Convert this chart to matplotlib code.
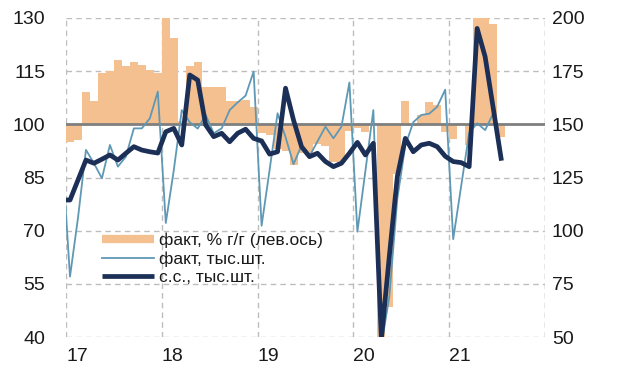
import matplotlib
matplotlib.use("Agg")
import matplotlib.pyplot as plt
from matplotlib.lines import Line2D
import numpy as np

plt.rcParams['font.family'] = ['Liberation Sans', 'DejaVu Sans']

# --- data -------------------------------------------------------------
year_labels = ["17", "18", "19", "20", "21"]

# факт, % г/г (left axis), Jan 2017 .. Jul 2021
fact_yoy = [95.1, 95.6, 109.2, 106.6, 114.5, 115.0, 118.1, 116.4, 117.5, 116.7, 115.3, 114.4,
            133.0, 124.3, 101.0, 116.5, 117.5, 110.4, 110.4, 110.6, 106.5, 106.5, 107.0, 105.0,
            97.5, 97.0, 93.0, 92.5, 88.5, 92.0, 91.5, 94.5, 94.0, 89.5, 89.0, 98.0,
            99.0, 97.8, 100.5, 28.0, 48.5, 86.0, 106.5, 99.5, 102.5, 106.4, 105.5, 97.8,
            96.0, 100.3, 94.2, 260.0, 190.0, 128.2, 96.5]

# факт, тыс.шт. (right axis), Dec 2016 .. Jun 2021
fact_units = [137.0,
              78.4, 106.0, 138.0, 131.7, 124.6, 140.3, 130.1, 134.8, 148.1, 148.1, 152.8, 165.4,
              103.6, 128.4, 156.7, 151.0, 148.0, 154.4, 145.8, 148.1, 156.7, 160.3, 163.5, 174.8,
              102.3, 128.5, 155.2, 144.0, 131.3, 140.0, 135.0, 142.0, 148.9, 143.4, 148.9, 169.7,
              99.5, 128.0, 156.7, 46.0, 69.0, 115.0, 140.0, 151.0, 154.4, 155.0, 158.3, 166.3,
              96.0, 121.0, 146.0, 150.5, 147.3, 155.0]

# с.с., тыс.шт. (right axis), Dec 2016 .. Jul 2021
sa_units = [114.4,
            114.4, 123.8, 133.2, 131.7, 133.6, 135.6, 133.2, 136.4, 139.5, 137.9, 137.1, 136.5,
            146.5, 148.1, 140.3, 173.2, 170.8, 149.7, 144.2, 145.8, 141.8, 145.8, 147.7, 143.4,
            142.2, 136.0, 137.1, 167.0, 152.0, 139.5, 134.8, 136.4, 132.5, 130.1, 131.7, 136.4,
            141.5, 135.6, 141.1, 49.0, 88.0, 125.4, 143.4, 137.1, 140.3, 141.1, 139.5, 135.0,
            132.5, 132.0, 130.1, 195.1, 181.8, 158.0, 134.0]

labels = ["факт, % г/г (лев.ось)", "факт, тыс.шт.", "с.с., тыс.шт."]

# --- styling ------------------------------------------------------------
c_bar = "#F5C08F"
c_thin = "#5F98B5"
c_thick = "#1B2F57"
c_grid = "#BDBDBD"
c_base = "#7F7F7F"
txt = "#1a1a1a"

fig = plt.figure(figsize=(6.2, 3.78), dpi=100)
ax1 = fig.add_axes([66/620, 1-337/378, (545-66)/620, (337-18)/378])
ax2 = ax1.twinx()

x_bar = np.arange(len(fact_yoy))             # Jan 2017 = 0
x_thin = np.arange(len(fact_units)) - 1       # Dec 2016 = -1
x_thick = np.arange(len(sa_units)) - 1

ax1.bar(x_bar, np.array(fact_yoy) - 100, bottom=100, width=1.0, color=c_bar,
        linewidth=0, zorder=2)
ax1.axhline(100, color=c_base, lw=2.0, zorder=3)

ax2.plot(x_thin, fact_units, color=c_thin, lw=1.3, zorder=4)
ax2.plot(x_thick, sa_units, color=c_thick, lw=3.4, zorder=5,
         solid_joinstyle='round')

ax1.set_xlim(-0.5, 59.5)
ax1.set_ylim(40, 130)
ax2.set_ylim(50, 200)
ax1.set_yticks(np.arange(40, 131, 15))
ax2.set_yticks(np.arange(50, 201, 25))

# grid
for yv in np.arange(40, 131, 15):
    ax1.axhline(yv, color=c_grid, lw=1.0, ls=(0, (4, 3)), zorder=0)
for xv in np.arange(-0.5, 60, 12):
    ax1.axvline(xv, color=c_grid, lw=1.0, ls=(0, (4, 3)), zorder=0)
ax1.axvline(59.5, color=c_grid, lw=1.0, ls=(0, (4, 3)), zorder=0)

for a in (ax1, ax2):
    for s in a.spines.values():
        s.set_visible(False)
    a.tick_params(length=0, labelsize=14, colors=txt)

ax1.tick_params(axis='y', pad=15)
ax2.tick_params(axis='y', pad=5)

ax1.set_xticks(np.arange(-0.5, 48, 12))
ax1.set_xticklabels(year_labels, ha='left')
ax1.tick_params(axis='x', pad=8)

handles = [Line2D([], [], color=c_bar, lw=6, solid_capstyle='butt'),
           Line2D([], [], color=c_thin, lw=1.3),
           Line2D([], [], color=c_thick, lw=3.4, solid_capstyle='butt')]
ax2.legend(handles, labels, loc='center left', bbox_to_anchor=(0.075, 0.245),
           frameon=False, fontsize=12.5, handlelength=3.0, handletextpad=0.3,
           labelspacing=0.2, borderpad=0, borderaxespad=0, labelcolor=txt)

fig.savefig("out.png", dpi=100)
